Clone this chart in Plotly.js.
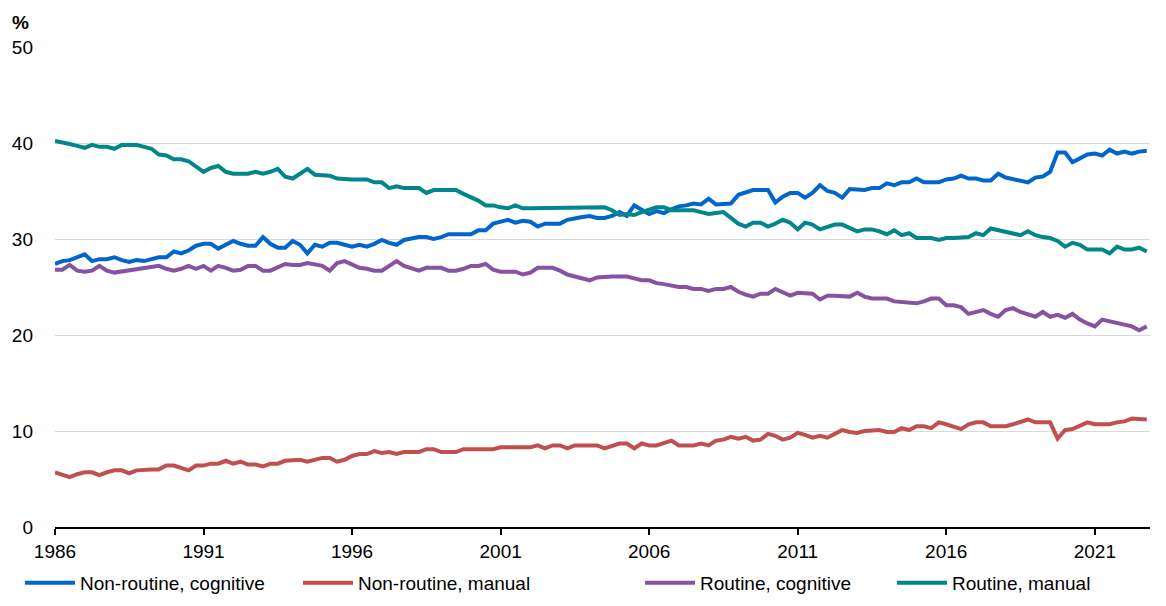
<!DOCTYPE html>
<html>
<head>
<meta charset="utf-8">
<script src="https://cdn.plot.ly/plotly-3.0.1.min.js"></script>
<style>html,body{margin:0;padding:0;background:#fff}#chart{width:1166px;height:606px}</style>
</head>
<body>
<div id="chart"></div>
<script>
// Quarterly observations, 1986 Q1 onwards
const startYear = 1986;
const seriesNames = ["Non-routine, cognitive", "Non-routine, manual", "Routine, cognitive", "Routine, manual"];
const seriesColors = ["#0066cc", "#c0504d", "#8652a1", "#00868b"];

const nonRoutineCognitive = [
 27.4,27.7,27.8,28.1,28.4,27.7,27.9,27.9,28.1,27.8,27.6,27.8,27.7,27.9,28.1,28.1,28.7,28.5,28.8,29.3,29.5,29.5,29.0,29.4,29.8,
 29.5,29.3,29.3,30.2,29.5,29.1,29.1,29.8,29.4,28.5,29.4,29.2,29.6,29.6,29.4,29.2,29.4,29.2,29.5,29.9,29.6,29.4,29.9,30.1,
 30.2,30.2,30.0,30.2,30.5,30.5,30.5,30.5,30.9,30.9,31.6,31.8,32.0,31.7,31.9,31.8,31.3,31.6,31.6,31.6,32.0,32.2,32.3,32.4,
 32.2,32.2,32.4,32.8,32.4,33.5,33.0,32.6,32.9,32.7,33.1,33.4,33.5,33.7,33.6,34.2,33.6,33.6,33.7,34.6,34.9,35.1,35.1,35.1,
 33.8,34.4,34.8,34.8,34.3,34.8,35.6,35.0,34.8,34.3,35.2,35.1,35.1,35.3,35.3,35.8,35.6,35.9,35.9,36.3,35.9,35.9,35.9,36.2,
 36.3,36.6,36.3,36.3,36.1,36.1,36.8,36.4,36.2,36.1,35.9,36.4,36.5,37.0,39.0,39.0,38.0,38.4,38.8,38.9,38.7,39.3,38.9,39.1,38.9,39.1,39.2
];
const nonRoutineManual = [
 5.7,5.4,5.2,5.5,5.7,5.7,5.4,5.7,5.9,5.9,5.6,5.9,6.0,6.0,6.0,6.4,6.4,6.2,5.9,6.4,6.4,6.6,6.6,6.9,6.6,
 6.8,6.5,6.5,6.3,6.6,6.6,6.9,6.9,7.0,6.8,7.0,7.2,7.2,6.8,7.0,7.4,7.6,7.6,7.9,7.7,7.8,7.6,7.8,7.8,
 7.8,8.1,8.1,7.8,7.8,7.8,8.1,8.1,8.1,8.1,8.1,8.3,8.3,8.3,8.3,8.3,8.5,8.2,8.5,8.5,8.2,8.5,8.5,8.5,
 8.5,8.2,8.4,8.7,8.7,8.2,8.7,8.5,8.5,8.7,9.0,8.5,8.5,8.5,8.7,8.5,9.0,9.1,9.4,9.2,9.4,9.0,9.1,9.7,
 9.5,9.1,9.3,9.8,9.6,9.3,9.5,9.3,9.7,10.1,9.9,9.8,10.0,10.1,10.1,9.9,9.9,10.3,10.1,10.5,10.5,10.3,10.9,10.7,
 10.5,10.2,10.7,10.9,10.9,10.5,10.5,10.5,10.7,10.9,11.2,10.9,10.9,10.9,9.2,10.1,10.2,10.6,10.9,10.7,10.7,10.7,10.9,11.0,11.3,11.2,11.2
];
const routineCognitive = [
 26.8,26.8,27.3,26.7,26.6,26.7,27.2,26.7,26.5,26.6,26.7,26.8,27.0,27.0,27.2,26.9,26.7,26.9,27.2,26.9,27.2,26.7,27.2,27.0,26.7,
 26.8,27.2,27.2,26.7,26.7,27.0,27.4,27.3,27.3,27.5,27.3,27.2,26.7,27.5,27.7,27.4,27.0,26.9,26.7,26.7,27.2,27.7,27.2,26.9,
 26.7,27.0,27.0,27.0,26.7,26.7,26.9,27.2,27.2,27.4,26.8,26.6,26.6,26.6,26.3,26.5,27.0,27.0,27.0,26.7,26.3,26.1,25.9,25.7,
 26.0,26.1,26.1,26.1,26.1,25.9,25.7,25.7,25.4,25.3,25.1,25.0,25.0,24.8,24.8,24.6,24.8,24.8,25.0,24.5,24.2,24.0,24.3,24.3,
 24.8,24.5,24.1,24.4,24.4,24.3,23.7,24.1,24.1,24.1,24.0,24.4,24.0,23.8,23.8,23.8,23.5,23.4,23.3,23.3,23.5,23.8,23.8,23.1,
 23.1,22.9,22.2,22.4,22.6,22.2,21.9,22.6,22.8,22.4,22.2,21.9,22.4,21.9,22.1,21.8,22.2,21.6,21.2,20.9,21.6,21.4,21.2,21.0,20.9,20.5,20.9
];
const routineManual = [
 40.2,40.1,39.9,39.7,39.5,39.8,39.6,39.6,39.4,39.8,39.8,39.8,39.6,39.4,38.8,38.7,38.3,38.3,38.1,37.6,37.0,37.4,37.6,37.0,36.8,
 36.8,36.8,37.0,36.8,37.0,37.3,36.5,36.3,36.8,37.3,36.7,36.6,36.6,36.3,36.2,36.2,36.2,36.2,35.9,35.9,35.3,35.5,35.3,35.3,
 35.3,34.8,35.1,35.1,35.1,35.1,34.7,34.4,34.0,33.5,33.5,33.3,33.2,33.5,33.2,33.2,33.2,33.2,33.2,33.2,33.2,33.2,33.2,33.2,
 33.3,33.3,33.0,32.5,32.6,32.5,32.8,33.1,33.3,33.3,33.0,33.0,33.0,33.0,32.8,32.6,32.7,32.8,32.2,31.6,31.3,31.7,31.7,31.3,
 31.6,32.0,31.7,31.0,31.7,31.5,31.0,31.3,31.5,31.5,31.2,30.8,31.0,31.0,30.8,30.5,30.9,30.4,30.6,30.1,30.1,30.1,29.9,30.1,
 30.1,30.2,30.2,30.6,30.4,31.1,30.9,30.7,30.5,30.4,30.8,30.4,30.2,30.1,29.8,29.2,29.6,29.4,28.9,28.9,28.9,28.5,29.2,28.9,28.9,29.1,28.7
];
const yTickValues = [0, 10, 20, 30, 40, 50];
const xTickYears = [1986, 1991, 1996, 2001, 2006, 2011, 2016, 2021];

function quarterDates(n) {
  const out = [];
  for (let i = 0; i < n; i++) {
    const y = startYear + Math.floor(i / 4);
    const m = (i % 4) * 3 + 1;
    out.push(y + "-" + String(m).padStart(2, "0") + "-01");
  }
  return out;
}
const dates = quarterDates(nonRoutineCognitive.length);
const allSeries = [nonRoutineCognitive, nonRoutineManual, routineCognitive, routineManual];

const legendIds = ["legend", "legend2", "legend3", "legend4"];
const traces = allSeries.map((vals, k) => ({
  type: "scatter", mode: "lines", x: dates, y: vals, name: seriesNames[k],
  line: {color: seriesColors[k], width: 4}, legend: legendIds[k]
}));

const fontFam = "Liberation Sans, Arial, sans-serif";
const FS = 19;
const legendXs = [20, 298, 640, 892];
const plotL = 55, plotW = 1095;
const layout = {
  width: 1166, height: 606,
  margin: {l: 55, r: 16, t: 47, b: 79, autoexpand: false},
  paper_bgcolor: "#fff", plot_bgcolor: "#fff",
  font: {family: fontFam, size: FS, color: "#000"},
  showlegend: true,
  xaxis: {
    type: "date", range: ["1986-01-01", "2022-11-10"],
    tickvals: xTickYears.map(y => y + "-01-01"), ticktext: xTickYears.map(String),
    showgrid: false, showline: true, linecolor: "#000", linewidth: 2,
    ticks: "outside", ticklen: 6, tickwidth: 2, tickcolor: "#000", ticklabelstandoff: 0,
    tickfont: {size: FS, family: fontFam, color: "#000"}, zeroline: false, fixedrange: true
  },
  yaxis: {
    range: [0, 50], tickvals: yTickValues, ticktext: yTickValues.map(String),
    showgrid: true, gridcolor: "#d9d9d9", gridwidth: 1, zeroline: false, showline: false,
    ticks: "", ticklabelstandoff: 21,
    tickfont: {size: FS, family: fontFam, color: "#000"}, fixedrange: true
  },
  annotations: [{
    text: "<b>%</b>", xref: "paper", yref: "paper", x: (10 - plotL) / plotW, y: (527 - 22) / 480,
    xanchor: "left", yanchor: "middle", showarrow: false, font: {size: FS, family: fontFam, color: "#000"}
  }]
};
legendIds.forEach((id, k) => {
  layout[id] = {
    orientation: "h", x: (legendXs[k] - plotL) / plotW, y: (527 - 583) / 480,
    xanchor: "left", yanchor: "middle", bgcolor: "rgba(0,0,0,0)", borderwidth: 0,
    font: {size: FS, family: fontFam, color: "#000"}, itemwidth: 50
  };
});

Plotly.newPlot("chart", traces, layout, {displayModeBar: false, staticPlot: true});
</script>
</body>
</html>
